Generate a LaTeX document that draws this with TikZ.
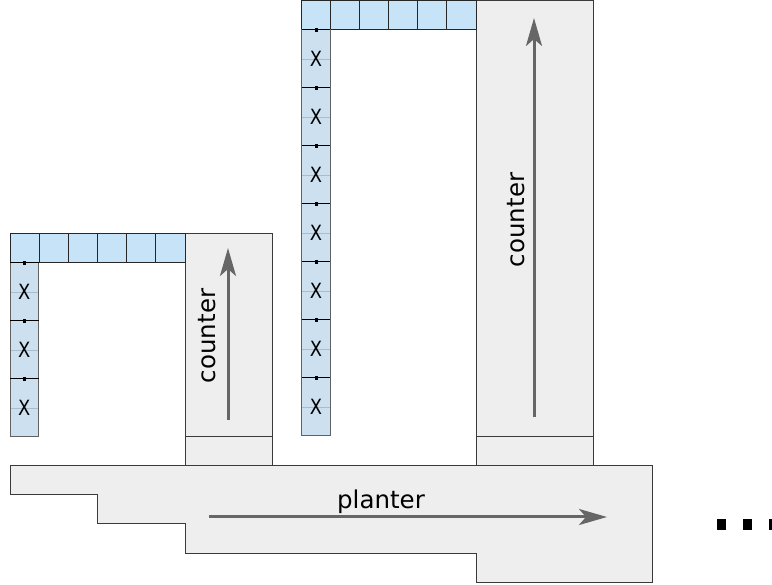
\documentclass[tikz,border=0pt]{standalone}
\usepackage{fontspec}
\setmainfont{DejaVu Sans}
\usetikzlibrary{arrows.meta}

\definecolor{cellblue}{HTML}{C6E3F8}
\definecolor{colblue}{HTML}{CCE0F0}
\definecolor{boxgray}{HTML}{EEEEEE}
\definecolor{edgegray}{HTML}{3A3A3A}
\definecolor{flowgray}{HTML}{666666}
\definecolor{midgray}{HTML}{A9BDCC}

\begin{document}
\begin{tikzpicture}[x=1pt, y=-1pt,
    box/.style={draw=edgegray, line width=1pt, fill=boxgray},
    cell/.style={draw=black!85, line width=1pt, fill=cellblue},
    colcell/.style={draw=edgegray!80, line width=1pt, fill=colblue},
    flow/.style={draw=flowgray, line width=3pt, -{Stealth[length=28pt, width=16pt, inset=7pt]}},
    lbl/.style={inner sep=0pt, font=\fontsize{24.5}{28}\selectfont},
    xlbl/.style={inner sep=0pt, font=\fontsize{21}{24}\selectfont}]

    \useasboundingbox (0,0) rectangle (772,585);

    % Planter
    \draw[box] (10,466) -- (652,466) -- (652,582) -- (476,582) -- (476,553)
        -- (185,553) -- (185,524) -- (97,524) -- (97,495) -- (10,495) -- cycle;
    \draw[flow] (209,517) -- (607,517);
    \node[lbl] (planter) at (381,502) {planter};

    % Counters (short and tall)
    \draw[box] (185,234) rectangle (272,437);
    \draw[box] (185,437) rectangle (272,466);
    \draw[box] (476,0.5) rectangle (593,437);
    \draw[box] (476,437) rectangle (593,466);
    \draw[flow] (228,420) -- (228,248);
    \draw[flow] (534,417) -- (534,18);
    \node[lbl, rotate=90] (counterA) at (207,336) {counter};
    \node[lbl, rotate=90] (counterB) at (516,220) {counter};

    % Top rows of cells
    \foreach \i in {0,...,5}{
    \draw[cell] (10+29.17*\i,234) rectangle ++(29.17,29);   % short
    \draw[cell] (301.7+29.05*\i,0.5) rectangle ++(29.05,29.5); % tall
    }

    % Columns of X cells
    \foreach \x/\y/\n in {10/263/3, 301.7/30/7}{
    \foreach \k in {1,...,\n}{
    \draw[colcell] (\x,\y+58*\k-58) rectangle ++(28.5,58);
    \draw[midgray, line width=0.8pt] (\x+0.5,\y+58*\k-29) -- ++(27.5,0);
    \draw[black, line width=1pt] (\x,\y+58*\k-58) -- ++(28.5,0);
    \fill[black] (\x+12.8,\y+58*\k-60) rectangle ++(3,4);
    \node[xlbl] at (\x+14.3,\y+58*\k-29) {\scalebox{0.85}[1]{X}};
    }
    }

    % More to the right
    \foreach \x in {717,743,769}{
    \fill[black] (\x,519) rectangle ++(9,11);
    }
\end{tikzpicture}
\end{document}
